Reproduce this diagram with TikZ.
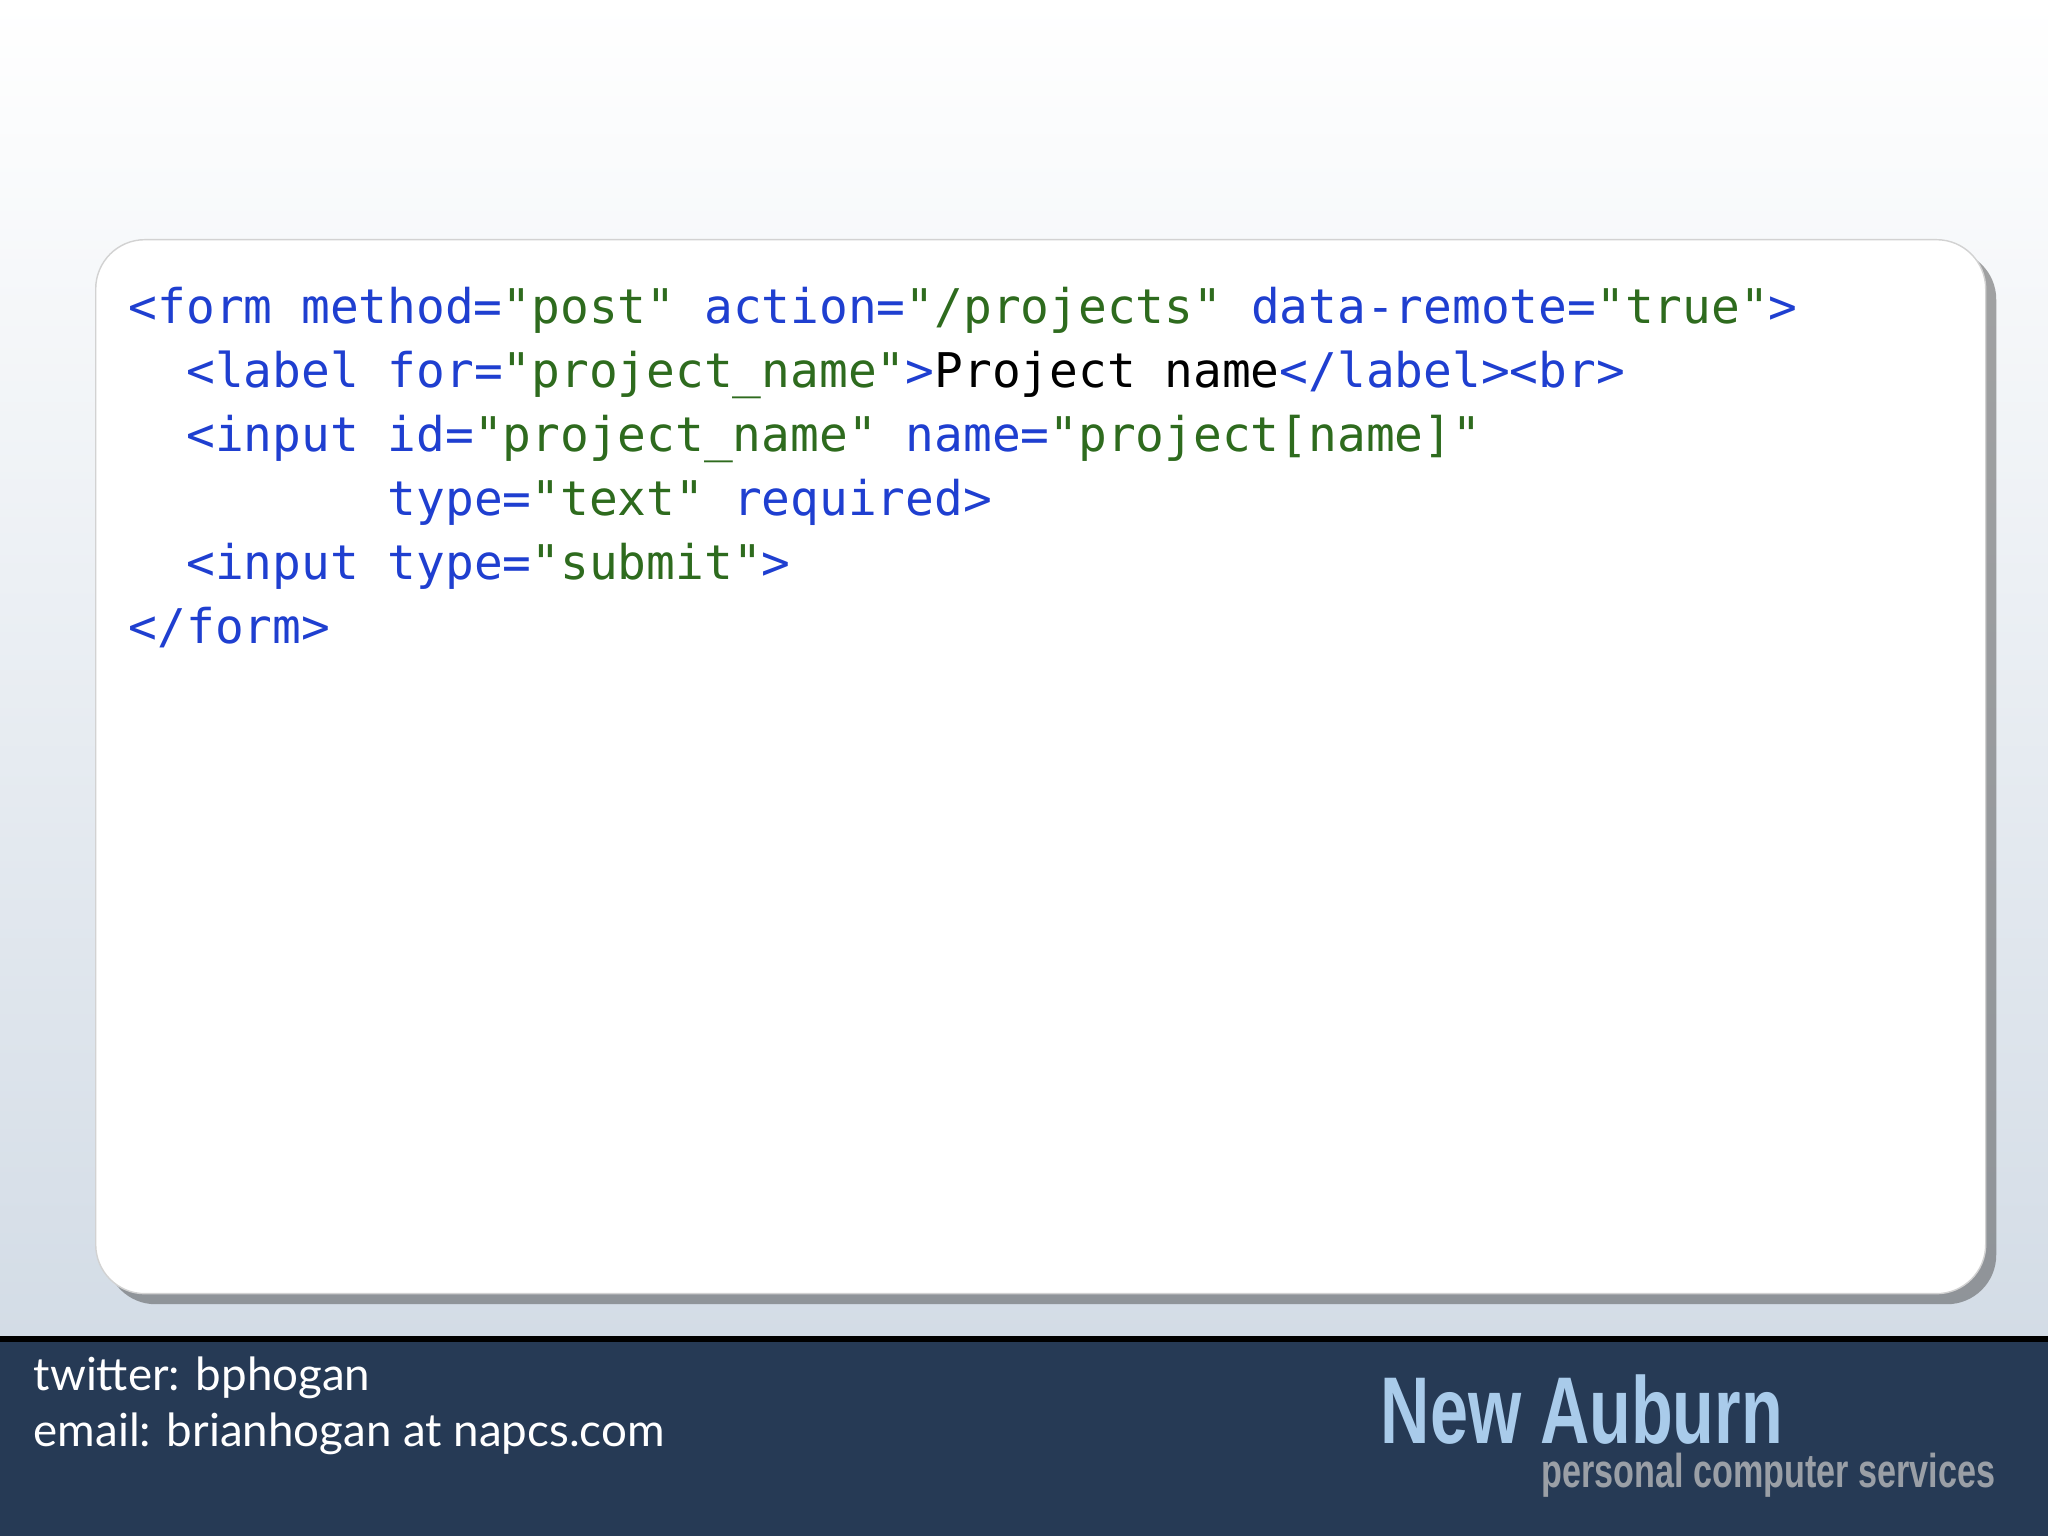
\documentclass[tikz,border=0pt]{standalone}
\usepackage{fontspec}
\usepackage{graphicx}
\setmonofont{DejaVu Sans Mono}
\newfontfamily\footfont{Lato}
\newfontfamily\logofont{Liberation Sans}
\usetikzlibrary{shadows}
\definecolor{tagb}{HTML}{1F3FD0}
\definecolor{strg}{HTML}{2E6B1E}
\definecolor{navy}{HTML}{263A55}
\definecolor{bgb}{HTML}{D3DCE6}
\definecolor{logob}{HTML}{A9CBEA}
\definecolor{logog}{HTML}{9A9FA6}
\newcommand{\tg}[1]{\textcolor{tagb}{#1}}
\newcommand{\st}[1]{\textcolor{strg}{#1}}
\tikzset{codeline/.style={anchor=base west,inner sep=0pt,font=\ttfamily\fontsize{13.6}{16}\selectfont},
foot/.style={anchor=base west,inner sep=0pt,text=white,font=\footfont\fontsize{13}{15}\selectfont}}
\begin{document}
\begin{tikzpicture}[x=1cm,y=1cm]
\useasboundingbox (0,0) rectangle (20.48,15.36);
\shade[top color=white,bottom color=bgb] (0,1.97) rectangle (20.48,15.36);
\fill[navy] (0,0) rectangle (20.48,1.97);
\draw[black,line width=1.5pt] (0,1.97) -- (20.48,1.97);
\node[draw=gray!35,fill=white,rounded corners=14pt,drop shadow={shadow xshift=3pt,shadow yshift=-3pt,opacity=0.5,fill=black!70},minimum width=18.9cm,minimum height=10.54cm,anchor=north west] (box) at (0.95,12.97) {};
\def\xl{1.28}
\node[codeline] (l1) at (\xl,12.12) {\tg{<form method=}\st{"post"} \tg{action=}\st{"/projects"} \tg{data-remote=}\st{"true"}\tg{>}};
\node[codeline] (l2) at (\xl,11.48) {\phantom{xx}\tg{<label for=}\st{"project\_name"}\tg{>}Project name\tg{</label><br>}};
\node[codeline] (l3) at (\xl,10.84) {\phantom{xx}\tg{<input id=}\st{"project\_name"} \tg{name=}\st{"project[name]"}};
\node[codeline] (l4) at (\xl,10.20) {\phantom{xxxxxxxxx}\tg{type=}\st{"text"} \tg{required>}};
\node[codeline] (l5) at (\xl,9.56) {\phantom{xx}\tg{<input type=}\st{"submit"}\tg{>}};
\node[codeline] (l6) at (\xl,8.92) {\tg{</form>}};
\node[foot] (tw) at (0.33,1.45) {twitter: bphogan};
\node[foot] (em) at (0.33,0.89) {email: brianhogan at napcs.com};
\node[anchor=base west,inner sep=0pt,text=logob,font=\logofont\bfseries\fontsize{27}{30}\selectfont] (na) at (13.8,0.92) {\scalebox{0.72}[1]{New Auburn}};
\node[anchor=base east,inner sep=0pt,text=logog,font=\logofont\bfseries\fontsize{13.5}{16}\selectfont] (pc) at (19.96,0.48) {\scalebox{0.72}[1]{personal computer services}};
\end{tikzpicture}
\end{document}
